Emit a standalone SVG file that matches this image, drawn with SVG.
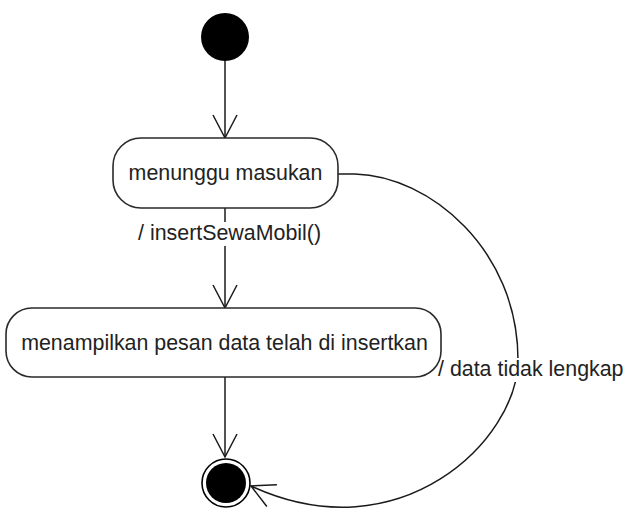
<svg xmlns="http://www.w3.org/2000/svg" width="625" height="510" viewBox="0 0 625 510">
  <style>
    .state { fill: #ffffff; stroke: #2a2a2a; stroke-width: 1.6; }
    .label { font-family: "Liberation Sans", Arial, sans-serif; font-size: 21.4px; fill: #222222; }
    .edge { fill: none; stroke: #1a1a1a; stroke-width: 1.5; }
    .bg { fill: #ffffff; }
  </style>
  <defs>
    <marker id="open-arrow" viewBox="-25 -14 27 28" refX="0" refY="0" markerWidth="27" markerHeight="28" markerUnits="userSpaceOnUse" orient="auto">
      <path d="M-23,-12 L0,0 L-23,12" fill="none" stroke="#1a1a1a" stroke-width="1.5"/>
    </marker>
  </defs>
  <rect width="625" height="510" fill="#ffffff"/>

  <!-- connectors -->
  <g id="connectors">
    <line class="edge" x1="225" y1="61" x2="225" y2="138" marker-end="url(#open-arrow)"/>
    <line class="edge" x1="225" y1="208" x2="225" y2="308" marker-end="url(#open-arrow)"/>
    <line class="edge" x1="225" y1="377" x2="225" y2="457" marker-end="url(#open-arrow)"/>
    <path class="edge" d="M338,174 L355,174 C430,176 518,250 518,360 C518,440 400,555 251,486" marker-end="url(#open-arrow)"/>
    <!-- transition labels -->
    <rect class="bg" x="136" y="222" width="188" height="24"/>
    <text class="label" x="138" y="240">/ insertSewaMobil()</text>
    <rect class="bg" x="443" y="358" width="182" height="24"/>
    <text class="label" x="438" y="376">/ data tidak lengkap</text>
  </g>

  <!-- initial pseudo-state -->
  <g id="initial">
    <circle cx="225" cy="37" r="24" fill="#000000"/>
  </g>

  <!-- state: menunggu masukan -->
  <g id="state-menunggu">
    <rect class="state" x="113" y="138" width="225" height="70" rx="28" ry="28"/>
    <text class="label" x="225.5" y="180" text-anchor="middle">menunggu masukan</text>
  </g>

  <!-- state: menampilkan pesan -->
  <g id="state-menampilkan">
    <rect class="state" x="6" y="308" width="435" height="69" rx="26" ry="26"/>
    <text class="label" x="224.5" y="350" text-anchor="middle">menampilkan pesan data telah di insertkan</text>
  </g>

  <!-- final state -->
  <g id="final">
    <circle cx="226" cy="483" r="24" fill="#ffffff" stroke="#000000" stroke-width="1.6"/>
    <circle cx="226" cy="483" r="20" fill="#000000"/>
  </g>
</svg>
